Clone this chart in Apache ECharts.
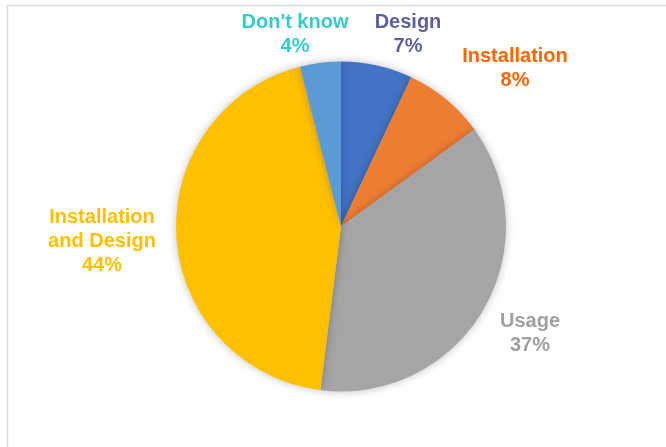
<!DOCTYPE html>
<html><head><meta charset="utf-8">
<script src="https://cdn.jsdelivr.net/npm/echarts@6/dist/echarts.min.js"></script>
<style>html,body{margin:0;padding:0;background:#fff}#c{width:666px;height:447px}</style>
</head><body><div id="c"></div>
<script>
const categories = ["Design", "Installation", "Usage", "Installation\nand Design", "Don't know"];
const values = [7, 8, 37, 44, 4];
const sliceColors = ["#4472C4", "#ED7D31", "#A5A5A5", "#FFC000", "#5B9BD5"];
const labelColors = ["#5F5F9E", "#FF6600", "#A0A0A0", "#FFC000", "#33CCCC"];
const labelSpots = [[408, 34], [515, 68], [530, 333], [102, 241], [295, 34]];

const chart = echarts.init(document.getElementById('c'));
chart.setOption({
  backgroundColor: '#fff',
  animation: false,
  graphic: [{
    type: 'rect', shape: { x: 7.5, y: 5.5, width: 700, height: 500 },
    style: { fill: 'none', stroke: '#D9D9D9', lineWidth: 1.5 }, silent: true
  }],
  series: [{
    type: 'pie',
    center: [341, 226.5],
    radius: 165,
    startAngle: 90,
    clockwise: true,
    data: categories.map((n, i) => ({
      name: n, value: values[i],
      itemStyle: { color: sliceColors[i] },
      label: { color: labelColors[i] }
    })),
    itemStyle: { borderWidth: 0, shadowBlur: 8, shadowColor: 'rgba(0,0,0,0.25)' },
    label: {
      show: true,
      formatter: p => p.name + '\n' + p.value + '%',
      fontFamily: 'Liberation Sans, Arial, sans-serif',
      fontWeight: 'bold',
      fontSize: 20,
      lineHeight: 24,
      align: 'center'
    },
    labelLine: { show: false },
    labelLayout: p => ({
      x: labelSpots[p.dataIndex][0],
      y: labelSpots[p.dataIndex][1],
      align: 'center',
      verticalAlign: 'middle'
    })
  }]
});
</script></body></html>
